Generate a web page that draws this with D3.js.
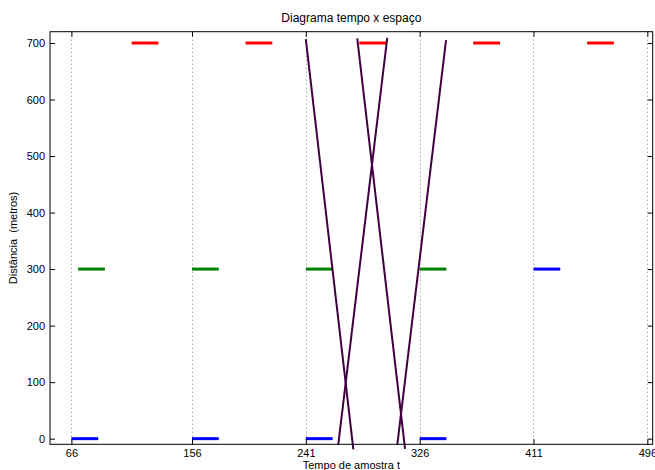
<!DOCTYPE html>
<html><head><meta charset="utf-8">
<script src="https://cdn.jsdelivr.net/npm/d3@7"></script>
<style>
body{margin:0;background:#fff;}
text{font-family:"Liberation Sans",Arial,Helvetica,sans-serif;fill:#000;}
</style></head>
<body><svg id="c" width="655" height="470"></svg>
<script>
const xTicks = [66,156,241,326,411,496];
const yTicks = [0,100,200,300,400,500,600,700];
// horizontal segments: [start, end, distance]
const redSegs   = [[111,131,700],[196,216,700],[281,301,700],[366,386,700],[451,471,700]];
const greenSegs = [[71,91,300],[156,176,300],[241,261,300],[326,346,300]];
const blueSegs  = [[66,86,0],[156,176,0],[241,261,0],[326,346,0],[411,431,300]];
// diagonal trajectories: [t0, d0, t1, d1]
const trajectories = [
  [241,707,276.5,-19],
  [279.4,708,315.1,-18],
  [301.8,709,265.2,-11],
  [345.7,705,309.3,-11]
];

const svg = d3.select("#c");
const L=50, R=652.7, T=31.7, B=444.3;
const x = d3.scaleLinear().domain([50,500]).range([L,R]);
const y = d3.scaleLinear().domain([-10,720]).range([B,T]);

// grid
svg.append("g").selectAll("line").data(xTicks).join("line")
  .attr("x1",d=>Math.round(x(d))+0.5).attr("x2",d=>Math.round(x(d))+0.5)
  .attr("y1",T).attr("y2",B)
  .attr("stroke","#888").attr("stroke-width",1).attr("stroke-dasharray","1,3");

// segments
function segs(data,color){
  svg.append("g").selectAll("line").data(data).join("line")
    .attr("x1",d=>x(d[0])).attr("x2",d=>x(d[1]))
    .attr("y1",d=>y(d[2])).attr("y2",d=>y(d[2]))
    .attr("stroke",color).attr("stroke-width",3);
}
segs(redSegs,"#ff0000");
segs(greenSegs,"#008000");
segs(blueSegs,"#0000ff");

svg.append("g").selectAll("line").data(trajectories).join("line")
  .attr("x1",d=>x(d[0])).attr("y1",d=>y(d[1]))
  .attr("x2",d=>x(d[2])).attr("y2",d=>y(d[3]))
  .attr("stroke","#400040").attr("stroke-width",2);

// axes (inward ticks)
const axB = d3.axisBottom(x).tickValues(xTicks).tickSize(-5).tickPadding(5).tickFormat(d3.format("d"));
const axT = d3.axisTop(x).tickValues(xTicks).tickSize(-5).tickFormat("");
const axL = d3.axisLeft(y).tickValues(yTicks).tickSize(-5).tickPadding(5).tickFormat(d3.format("d"));
const axR = d3.axisRight(y).tickValues(yTicks).tickSize(-5).tickFormat("");
function style(g){
  g.select(".domain").remove();
  g.selectAll("line").attr("stroke","#000");
  g.selectAll("text").attr("font-size",11).attr("font-family","Liberation Sans, Arial, sans-serif").attr("fill","#000");
}
svg.append("g").attr("transform",`translate(0,${B})`).call(axB).call(style);
svg.append("g").attr("transform",`translate(0,${T})`).call(axT).call(style);
svg.append("g").attr("transform",`translate(${L},0)`).call(axL).call(style);
svg.append("g").attr("transform",`translate(${R},0)`).call(axR).call(style);

svg.append("rect").attr("x",L).attr("y",T).attr("width",R-L).attr("height",B-T)
  .attr("fill","none").attr("stroke","#000").attr("stroke-width",1);

svg.append("text").attr("x",(L+R)/2).attr("y",22).attr("text-anchor","middle")
  .attr("font-size",12).text("Diagrama tempo x espaço");
svg.append("text").attr("x",(L+R)/2).attr("y",469).attr("text-anchor","middle")
  .attr("font-size",11).text("Tempo de amostra t");
svg.append("text").attr("transform",`translate(17,${(T+B)/2}) rotate(-90)`)
  .attr("text-anchor","middle").attr("font-size",11).text("Distância\u00a0 (metros)");
</script></body></html>
